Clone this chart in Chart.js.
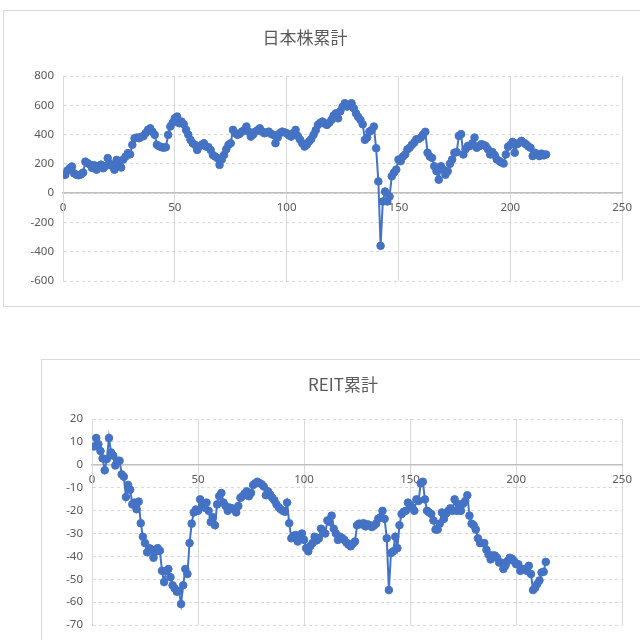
<!DOCTYPE html>
<html>
<head>
<meta charset="utf-8">
<script src="https://cdn.jsdelivr.net/npm/chart.js@4"></script>
<style>
  body { margin: 0; background: #fff; overflow: hidden; width: 640px; height: 640px; position: relative; }
  .box { position: absolute; border: 1px solid #d9d9d9; background: #fff; }
  .box canvas { position: absolute; left: 0; top: 0; }
  .title { position: absolute; font-family: "Noto Sans CJK JP", "Noto Sans", sans-serif; font-size: 17px; color: #595959; transform: translate(-50%, -50%); white-space: nowrap; }
</style>
</head>
<body>
<div class="box" style="left:3px; top:10px; width:700px; height:295px;">
  <canvas id="chart1" width="636" height="295"></canvas>
</div>
<div class="title" style="left:305px; top:36px;">日本株累計</div>

<div class="box" style="left:41px; top:359px; width:700px; height:300px;">
  <canvas id="chart2" width="598" height="281"></canvas>
</div>
<div class="title" style="left:343px; top:383px;">REIT累計</div>

<script>
// 日本株累計, one value per step starting at x = 1
const jpStocks = [
  125, 155, 170, 182, 135, 125, 122, 128, 140, 215,
  205, 195, 172, 190, 160, 185, 195, 170, 185, 239,
  200, 185, 160, 227, 185, 175, 230, 250, 273, 265,
  330, 375, 380, 375, 385, 390, 410, 432, 443, 420,
  398, 330, 320, 314, 310, 314, 398, 455, 480, 511,
  523, 477, 489, 470, 432, 400, 364, 341, 330, 295,
  320, 330, 341, 318, 314, 295, 261, 250, 240, 193,
  230, 261, 300, 330, 341, 432, 410, 398, 405, 420,
  430, 455, 420, 386, 400, 420, 430, 443, 420, 409,
  415, 420, 405, 398, 341, 380, 410, 420, 415, 409,
  395, 386, 410, 432, 390, 364, 340, 318, 330, 352,
  370, 398, 430, 466, 480, 489, 475, 466, 480, 500,
  530, 545, 511, 560, 590, 614, 591, 600, 614, 580,
  545, 520, 500, 470, 364, 380, 420, 430, 455, 307,
  80, -360, -57, 11, -57, -23, 115, 140, 161, 230,
  218, 250, 264, 299, 310, 330, 345, 368, 370, 380,
  400, 419, 276, 250, 241, 184, 150, 92, 184, 160,
  126, 150, 200, 230, 276, 280, 391, 403, 264, 300,
  322, 322, 340, 380, 310, 320, 334, 330, 322, 300,
  264, 280, 260, 230, 220, 210, 202, 264, 317, 330,
  350, 276, 334, 345, 357, 345, 334, 320, 310, 253,
  276, 265, 253, 270, 258, 264
];

// REIT累計, one value per step starting at x = 1
const reit = [
  8, 11.7, 9, 6, 2.8, -2.4, 2.5, 11.7, 5.4, 4,
  -0.3, 1.8, 1.8, -4.2, -5.2, -14.1, -8.8, -10.9, -17.3, -16.5,
  -19.4, -16.1, -25.5, -31.4, -34.2, -38.2, -36.4, -37, -40.6, -38,
  -36.4, -37.5, -46.3, -51.2, -46.3, -45.5, -49.1, -52.6, -54, -55.4,
  -55.2, -60.8, -52.6, -45.5, -47.7, -34.2, -25.7, -20.8, -19.5, -20.1,
  -15.1, -17, -18.7, -16.5, -20.1, -25, -22.9, -26.4, -17.3, -13.7,
  -12.3, -16.5, -18, -20.1, -18.7, -19, -19.4, -20.8, -18, -14.4,
  -13.7, -12.5, -11.6, -13.7, -12.3, -8.8, -8.1, -7.4, -8, -8.5,
  -9.5, -13.3, -11.6, -13, -14.4, -15.5, -17.3, -18.5, -19.4, -20.1,
  -20.5, -16.5, -25.5, -32.1, -31, -30.7, -33.5, -32, -30, -32.8,
  -36.4, -37.8, -35.5, -34.2, -31.4, -33, -32.1, -27.9, -29, -30,
  -24.3, -25, -22.2, -27.9, -30, -32.8, -31.4, -32, -32.8, -34,
  -34.9, -35.6, -34.5, -33.5, -26.4, -25.7, -26, -25.5, -26.9, -26,
  -26.4, -27.2, -26.5, -25.7, -23.5, -22.9, -20.1, -23.6, -32.1, -54.7,
  -38.5, -37.8, -31.4, -36.4, -26.4, -21.5, -20.5, -20.1, -16.5, -17.5,
  -18.7, -20.1, -15.1, -15.8, -8.1, -7.4, -15.1, -20.1, -20.8, -21.5,
  -24.3, -28.3, -28.3, -25.7, -20.8, -23.6, -21.2, -20.1, -19, -20.1,
  -15.1, -20.1, -17.3, -20.1, -17, -15.8, -13.3, -22.2, -25.7, -26.4,
  -28.3, -32.1, -34.2, -34.2, -34.2, -37.1, -39.2, -41.3, -39.6, -39.6,
  -40.6, -42.7, -42.7, -45.5, -44, -42, -40.6, -41, -42, -43.4,
  -43.4, -46.3, -45.5, -45.5, -46.3, -44.1, -47.7, -54.7, -53.7, -52,
  -50.5, -47, -46.7, -42.4
];

const xTicks = [0, 50, 100, 150, 200, 250];
const jpYRange = [-600, 800];
const reitYRange = [-70, 20];

const blue = "#4472C4";
const tickFont = { family: "'Noto Sans', sans-serif", size: 11.5 };

function makeChart(id, values, yRange, yStep, yWidth, padding) {
  const points = values.map((v, k) => ({ x: k + 1, y: v }));
  return new Chart(document.getElementById(id).getContext("2d"), {
    type: "line",
    data: {
      datasets: [{
        data: points,
        borderColor: blue,
        backgroundColor: blue,
        borderWidth: 2,
        pointRadius: 3.8,
        pointBorderWidth: 1,
        pointBackgroundColor: blue,
        pointBorderColor: blue,
        tension: 0,
      }],
    },
    options: {
      responsive: false,
      animation: false,
      layout: { padding: padding },
      plugins: { legend: { display: false }, tooltip: { enabled: false } },
      scales: {
        x: {
          type: "linear",
          position: { y: 0 },
          min: xTicks[0],
          max: xTicks[xTicks.length - 1],
          afterBuildTicks: (s) => { s.ticks = xTicks.map((v) => ({ value: v })); },
          grid: { color: "#d9d9d9", drawTicks: false },
          border: { color: "#bfbfbf", width: 1.5 },
          ticks: { color: "#595959", font: tickFont, padding: 8, maxRotation: 0 },
        },
        y: {
          min: yRange[0],
          max: yRange[1],
          ticks: { stepSize: yStep, color: "#595959", font: tickFont, padding: 9 },
          grid: { color: "#d9d9d9", drawTicks: false },
          border: { color: "#d9d9d9", dash: [3, 3] },
          afterFit: (s) => { s.width = yWidth; },
        },
      },
    },
  });
}

makeChart("chart1", jpStocks, jpYRange, 200, 59, { top: 65, right: 15, bottom: 25, left: 0 });
makeChart("chart2", reit, reitYRange, 10, 50, { top: 59, right: 14, bottom: 9, left: 0 });
</script>
</body>
</html>
